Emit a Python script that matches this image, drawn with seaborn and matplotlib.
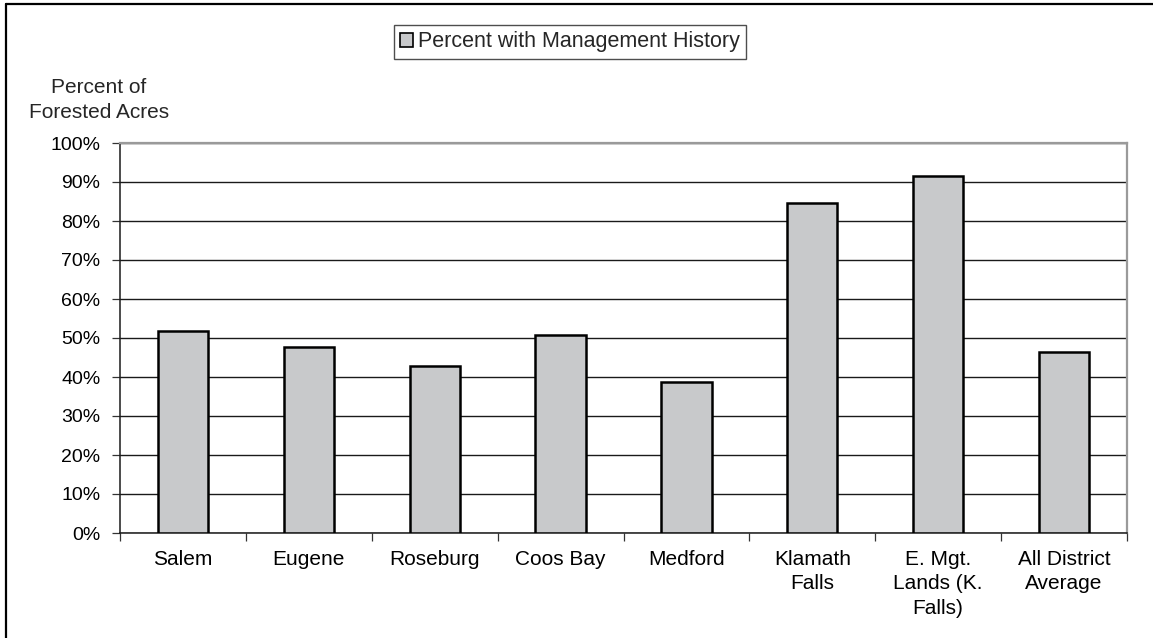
import matplotlib
matplotlib.use("Agg")
import matplotlib.pyplot as plt
from matplotlib.lines import Line2D
from matplotlib.patches import Patch
from matplotlib.ticker import FixedLocator, PercentFormatter
import seaborn as sns
import pandas as pd

districts = ["Salem", "Eugene", "Roseburg", "Coos Bay", "Medford",
             "Klamath\nFalls", "E. Mgt.\nLands (K.\nFalls)", "All District\nAverage"]
pct_managed = [51.8, 47.6, 42.7, 50.8, 38.6, 84.7, 91.5, 46.3]
series_name = "Percent with Management History"

df = pd.DataFrame({"district": districts, "pct": pct_managed})

sns.set_theme(style="white")
plt.rcParams["font.family"] = ["Liberation Sans", "DejaVu Sans"]
plt.rcParams["font.size"] = 15

W, H = 1153, 638
fig = plt.figure(figsize=(W / 100, H / 100), dpi=100)
ax = fig.add_axes([120 / W, 1 - 533 / H, (1127 - 120) / W, (533 - 143) / H])

sns.barplot(data=df, x="district", y="pct", ax=ax, color="#c8c9cb",
            saturation=1, width=0.4, edgecolor="black", linewidth=1.8, zorder=3)

ax.set_xlim(-0.5, len(districts) - 0.5)
ax.set_ylim(0, 100)
ax.yaxis.set_major_locator(FixedLocator(range(0, 101, 10)))
ax.yaxis.set_major_formatter(PercentFormatter(decimals=0))
ax.set_xlabel("")
ax.set_ylabel("")

ax.grid(axis="y", color="#1a1a1a", linewidth=1.0, zorder=0)
ax.grid(axis="x", visible=False)

for lab in ax.get_xticklabels():
    lab.set_linespacing(1.38)
ax.tick_params(axis="x", which="major", length=0, pad=12, labelsize=15, colors="black")
ax.xaxis.set_minor_locator(FixedLocator([i - 0.5 for i in range(len(districts) + 1)]))
ax.tick_params(axis="x", which="minor", length=6, width=0.9, color="#333333", direction="out", bottom=True)
ax.tick_params(axis="y", length=6, width=0.9, color="#333333", direction="out", left=True, pad=8, labelsize=14, labelcolor="black")

for side in ["left", "bottom"]:
    ax.spines[side].set_color("#1a1a1a")
    ax.spines[side].set_linewidth(1.1)
for side in ["right", "top"]:
    ax.spines[side].set_color("#9a9a9a")
    ax.spines[side].set_linewidth(1.6)
    ax.spines[side].set_visible(True)

fig.text(99 / W, 1 - 100 / H, "Percent of\nForested Acres", ha="center", va="center",
         fontsize=15, linespacing=1.38)

handle = Patch(facecolor="#c8c9cb", edgecolor="black", linewidth=1.2)
leg = fig.legend([handle], [series_name], loc="center", bbox_to_anchor=(570 / W, 1 - 42 / H),
                 frameon=True, fancybox=False, edgecolor="#222222", fontsize=15.5,
                 handlelength=0.6, handleheight=0.6, handletextpad=0.2, borderpad=0.3,
                 borderaxespad=0)
leg.get_frame().set_linewidth(1.0)

# frame along the top and left edges of the page
fig.add_artist(Line2D([6 / W, 1], [1 - 3.5 / H, 1 - 3.5 / H], color="black", linewidth=1.6))
fig.add_artist(Line2D([6 / W, 6 / W], [0, 1 - 3.5 / H], color="black", linewidth=1.6))

fig.savefig("out.png", dpi=100, facecolor="white")
